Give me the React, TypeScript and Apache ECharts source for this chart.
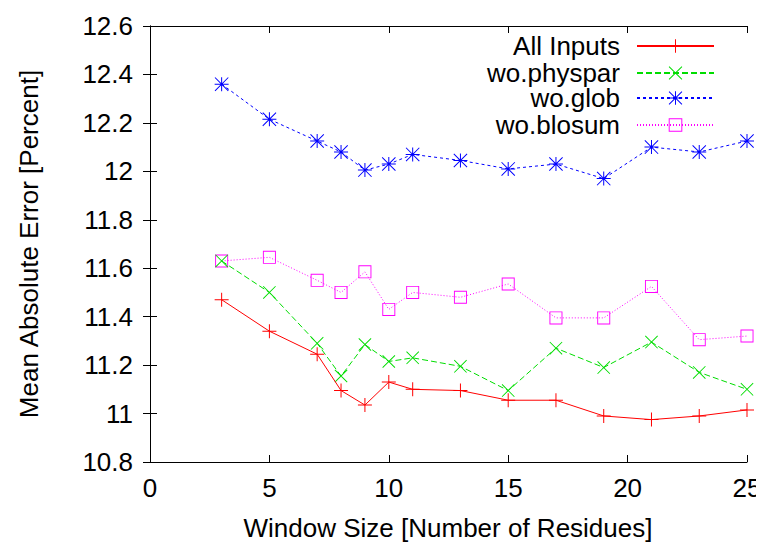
import React, { useEffect, useRef } from "react";
import * as echarts from "echarts";

const windowSizes = [3, 5, 7, 8, 9, 10, 11, 13, 15, 17, 19, 21, 23, 25];
const allInputs = [11.47, 11.34, 11.245, 11.095, 11.035, 11.13, 11.1, 11.095, 11.055, 11.055, 10.99, 10.975, 10.99, 11.015];
const woPhyspar = [11.63, 11.5, 11.29, 11.155, 11.285, 11.215, 11.23, 11.195, 11.095, 11.27, 11.19, 11.295, 11.17, 11.1];
const woGlob = [12.36, 12.215, 12.125, 12.08, 12.005, 12.03, 12.07, 12.045, 12.01, 12.03, 11.97, 12.1, 12.08, 12.125];
const woBlosum = [11.63, 11.645, 11.55, 11.5, 11.585, 11.43, 11.5, 11.48, 11.535, 11.395, 11.395, 11.525, 11.305, 11.32];

const seriesNames = ["All Inputs", "wo.physpar", "wo.glob", "wo.blosum"];
const seriesColors = ["#ff0000", "#00dd00", "#0000ff", "#ff00ff"];
const xTitle = "Window Size [Number of Residues]";
const yTitle = "Mean Absolute Error [Percent]";

const FONT = "'Liberation Sans', Arial, sans-serif";

const PLUS = "path://M6.5,0 H7.5 V6.5 H14 V7.5 H7.5 V14 H6.5 V7.5 H0 V6.5 H6.5 Z";
const CROSS = "path://M0,0.7 L0.7,0 L14,13.3 L13.3,14 Z M13.3,0 L14,0.7 L0.7,14 L0,13.3 Z";
const STAR = "path://M6.5,0 H7.5 V6.5 H14 V7.5 H7.5 V14 H6.5 V7.5 H0 V6.5 H6.5 Z M0,0.7 L0.7,0 L14,13.3 L13.3,14 Z M13.3,0 L14,0.7 L0.7,14 L0,13.3 Z";
const SQUARE = "path://M0,0 H14 V14 H0 Z M1,1 V13 H13 V1 Z";

export default function App() {
  const ref = useRef<HTMLDivElement>(null);
  useEffect(() => {
    if (!ref.current) return;
    const chart = echarts.init(ref.current, undefined, { renderer: "svg" });
    const datasets = [allInputs, woPhyspar, woGlob, woBlosum];
    const symbols = [PLUS, CROSS, STAR, SQUARE];
    const sizes = [14, 13, 14, 13];
    const dashes: any[] = ["solid", [6, 3], [3, 3], [1, 2]];
    const legendTops = [25, 52, 77, 104];
    const axisLine = { show: true, lineStyle: { color: "#000", width: 1 } };
    const tick = { show: true, inside: true, length: 7, lineStyle: { color: "#000" } };
    chart.setOption({
      animation: false,
      backgroundColor: "#fff",
      grid: { left: 142, right: 25, top: 18, bottom: 89, containLabel: false },
      xAxis: [
        {
          type: "value", min: 0, max: 25, interval: 5, position: "bottom",
          axisLine, axisTick: tick, splitLine: { show: false },
          axisLabel: { fontSize: 26, fontFamily: FONT, color: "#000", margin: 13 },
        },
        {
          type: "value", min: 0, max: 25, interval: 5, position: "top",
          axisLine, axisTick: tick, splitLine: { show: false }, axisLabel: { show: false },
        },
      ],
      yAxis: [
        {
          type: "value", min: 10.8, max: 12.6, interval: 0.2, position: "left",
          axisLine, axisTick: tick, splitLine: { show: false },
          axisLabel: { fontSize: 26, fontFamily: FONT, color: "#000", margin: 17 },
        },
        {
          type: "value", min: 10.8, max: 12.6, interval: 0.2, position: "right",
          axisLine, axisTick: tick, splitLine: { show: false }, axisLabel: { show: false },
        },
      ],
      legend: seriesNames.map((n, i) => ({
        data: [n],
        orient: "vertical",
        right: 57,
        top: legendTops[i],
        align: "right",
        itemWidth: 77,
        itemHeight: 17,
        padding: 0,
        selectedMode: false,
        textStyle: { fontSize: 26, lineHeight: 24, fontFamily: FONT, color: "#000", padding: [0, 12, 0, 0] },
      })),
      graphic: [
        {
          type: "text", x: 440, y: 520,
          style: { text: xTitle, fontSize: 26, fontFamily: FONT, fill: "#000", align: "center", verticalAlign: "middle" },
        },
        {
          type: "text", x: 21, y: 236, rotation: Math.PI / 2,
          style: { text: yTitle, fontSize: 26, fontFamily: FONT, fill: "#000", align: "center", verticalAlign: "middle" },
        },
      ],
      series: seriesNames.map((n, i) => ({
        name: n,
        type: "line",
        xAxisIndex: 0,
        yAxisIndex: 0,
        data: windowSizes.map((x, j) => [x, datasets[i][j]]),
        symbol: symbols[i],
        symbolSize: sizes[i],
        showSymbol: true,
        lineStyle: { color: seriesColors[i], width: 1, type: dashes[i] },
        itemStyle: { color: seriesColors[i] },
        emphasis: { disabled: true },
        z: 10 - i,
      })),
    });
    return () => chart.dispose();
  }, []);
  return <div ref={ref} style={{ width: 764, height: 543 }} />;
}
